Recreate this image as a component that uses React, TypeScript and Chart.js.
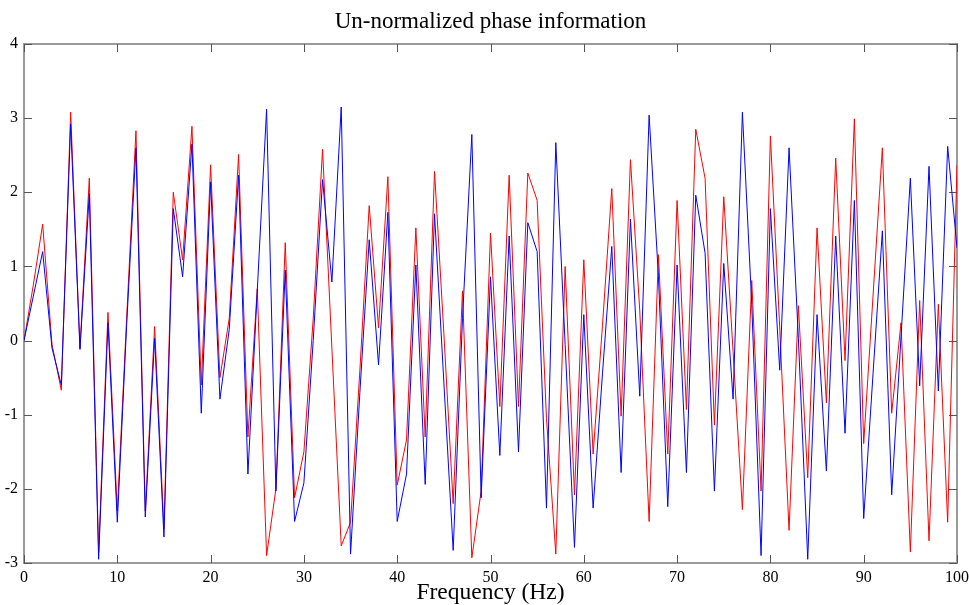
import React, { useEffect, useRef } from "react";
import { Chart, registerables } from "chart.js";

Chart.register(...registerables);

const frequencies = [
  0, 1, 2, 3, 4, 5, 6, 7, 8, 9, 10, 11, 12, 13, 14, 15, 16, 17, 18, 19, 20,
  21, 22, 23, 24, 25, 26, 27, 28, 29, 30, 31, 32, 33, 34, 35, 36, 37, 38, 39, 40,
  41, 42, 43, 44, 45, 46, 47, 48, 49, 50, 51, 52, 53, 54, 55, 56, 57, 58, 59, 60,
  61, 62, 63, 64, 65, 66, 67, 68, 69, 70, 71, 72, 73, 74, 75, 76, 77, 78, 79, 80,
  81, 82, 83, 84, 85, 86, 87, 88, 89, 90, 91, 92, 93, 94, 95, 96, 97, 98, 99, 100,
];

const redPhase = [
  0, 0.75, 1.57, -0.05, -0.67, 3.08, -0.1, 2.19, -2.85, 0.38, -2.3,
  0.3, 2.83, -2.3, 0.19, -2.54, 2.0, 1.09, 2.89, -0.6, 2.37,
  -0.5, 0.3, 2.51, -1.3, 0.7, -2.9, -2.0, 1.32, -2.12, -1.5,
  0.3, 2.58, -0.1, -2.77, -2.45, -0.4, 1.82, 0.17, 2.21, -1.95,
  -1.34, 1.52, -1.3, 2.28, 0.1, -2.2, 0.67, -2.93, -2.03, 1.45,
  -0.89, 2.23, -0.89, 2.26, 1.89, -1.05, -2.88, 1.0, -2.08, 1.09,
  -1.53, 0.2, 2.05, -1.02, 2.44, 0.4, -2.44, 1.16, -1.53, 1.89,
  -0.93, 2.85, 2.19, -1.14, 1.94, -0.15, -2.28, 0.81, -2.03, 2.76,
  0.17, -2.56, 0.47, -1.85, 1.52, -0.84, 2.46, -0.27, 2.99, -1.39,
  0.6, 2.6, -0.98, 0.24, -2.85, 0.54, -2.7, 0.49, -2.45, 2.37,
];

const bluePhase = [
  0, 0.6, 1.2, -0.1, -0.6, 2.92, -0.12, 1.98, -2.95, 0.24, -2.45,
  0.2, 2.6, -2.38, 0.03, -2.65, 1.78, 0.86, 2.65, -0.98, 2.14,
  -0.79, 0.15, 2.23, -1.8, 0.67, 3.12, -2.03, 0.95, -2.44, -1.92,
  0.0, 2.17, 0.79, 3.15, -2.88, -0.7, 1.36, -0.33, 1.73, -2.44,
  -1.8, 1.02, -1.94, 1.71, -0.56, -2.83, 0.3, 2.78, -2.12, 0.86,
  -1.55, 1.41, -1.5, 1.59, 1.2, -2.26, 2.67, -0.05, -2.79, 0.35,
  -2.26, -0.45, 1.27, -1.78, 1.64, -0.75, 3.04, 0.86, -2.24, 1.02,
  -1.78, 1.96, 1.18, -2.03, 1.04, -0.79, 3.08, 0.49, -2.9, 1.78,
  -0.4, 2.6, 0.03, -2.95, 0.35, -1.76, 1.41, -1.25, 1.89, -2.4,
  -0.45, 1.48, -2.08, 0.05, 2.19, -0.61, 2.35, -0.68, 2.62, 1.25,
];

const titleText = "Un-normalized phase information";
const xTitle = "Frequency (Hz)";
const SERIF = "'Liberation Serif', 'DejaVu Serif', serif";

const framePlugin = {
  id: "frame",
  beforeDatasetsDraw(chart: any) {
    const { ctx, chartArea, scales } = chart;
    const { left, right, top, bottom } = chartArea;
    const x = scales.x;
    const y = scales.y;
    ctx.save();
    ctx.strokeStyle = "#9a9a9a";
    ctx.lineWidth = 2;
    ctx.strokeRect(left, top, right - left, bottom - top);
    ctx.strokeStyle = "#555555";
    ctx.lineWidth = 1;
    const tl = 8;
    ctx.beginPath();
    x.ticks.forEach((t: any) => {
      const px = Math.round(x.getPixelForValue(t.value)) + 0.5;
      ctx.moveTo(px, bottom);
      ctx.lineTo(px, bottom - tl);
      ctx.moveTo(px, top);
      ctx.lineTo(px, top + tl);
    });
    y.ticks.forEach((t: any) => {
      const py = Math.round(y.getPixelForValue(t.value)) + 0.5;
      ctx.moveTo(left, py);
      ctx.lineTo(left + tl, py);
      ctx.moveTo(right, py);
      ctx.lineTo(right - tl, py);
    });
    ctx.stroke();
    ctx.restore();
  },
};

export default function App() {
  const ref = useRef<HTMLCanvasElement | null>(null);

  useEffect(() => {
    if (!ref.current) return;
    const toPoints = (vals: number[]) =>
      frequencies.map((f, i) => ({ x: f, y: vals[i] }));
    const chart = new Chart(ref.current, {
      type: "line",
      data: {
        datasets: [
          {
            label: "blue",
            data: toPoints(bluePhase),
            borderColor: "#0000ff",
            borderWidth: 1,
            pointRadius: 0,
            tension: 0,
            fill: false,
          },
          {
            label: "red",
            data: toPoints(redPhase),
            borderColor: "#ff0000",
            borderWidth: 1,
            pointRadius: 0,
            tension: 0,
            fill: false,
          },
        ],
      },
      options: {
        animation: false,
        responsive: false,
        events: [],
        layout: { padding: { top: 0, left: 0, right: 12, bottom: 0 } },
        plugins: {
          legend: { display: false },
          tooltip: { enabled: false },
          title: {
            display: true,
            text: titleText,
            fullSize: false,
            color: "#000",
            font: { family: SERIF, size: 23, weight: "normal", lineHeight: 1.2 },
            padding: { top: 8, bottom: 8.4 },
          },
        },
        scales: {
          x: {
            type: "linear",
            min: 0,
            max: 100,
            grid: { display: false, drawTicks: false },
            border: { display: false },
            ticks: {
              stepSize: 10,
              padding: 5,
              color: "#000",
              maxRotation: 0,
              font: { family: SERIF, size: 16 },
            },
            title: {
              display: true,
              text: xTitle,
              color: "#000",
              font: { family: SERIF, size: 23.5, lineHeight: 1 },
              padding: { top: 0, bottom: 0 },
            },
            afterFit: (s: any) => {
              s.height = 42;
              s.paddingLeft = 0;
              s.paddingRight = 0;
            },
          },
          y: {
            type: "linear",
            min: -3,
            max: 4,
            grid: { display: false, drawTicks: false },
            border: { display: false },
            ticks: {
              stepSize: 1,
              padding: 6,
              color: "#000",
              font: { family: SERIF, size: 16 },
            },
            afterFit: (s: any) => {
              s.width = 24;
              s.paddingTop = 0;
              s.paddingBottom = 0;
            },
          },
        },
      },
      plugins: [framePlugin],
    });
    return () => chart.destroy();
  }, []);

  return (
    <div
      style={{
        position: "fixed",
        left: 0,
        top: 0,
        width: 969,
        height: 605,
        background: "#fff",
      }}
    >
      <canvas ref={ref} width={969} height={605} />
    </div>
  );
}
